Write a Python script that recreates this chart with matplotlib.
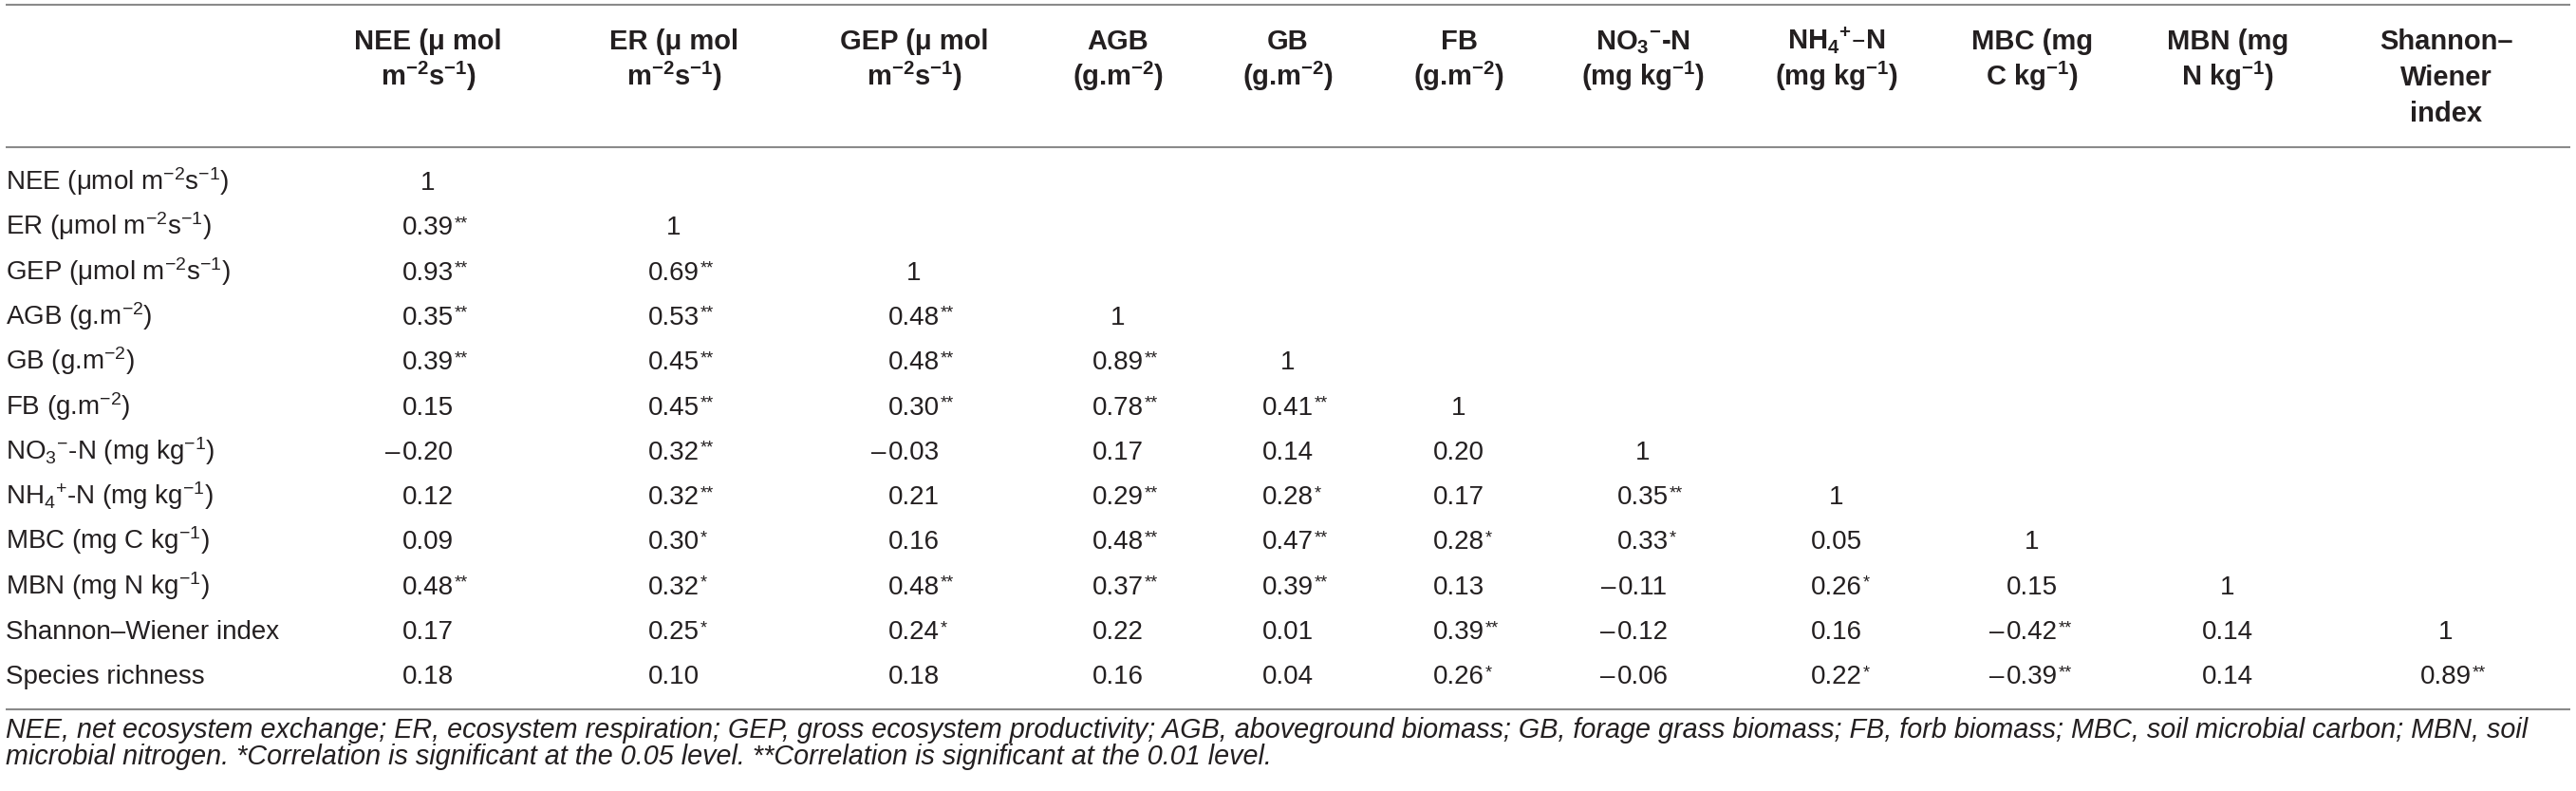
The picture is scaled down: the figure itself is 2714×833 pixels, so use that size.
import matplotlib
matplotlib.use('Agg')
import matplotlib.pyplot as plt

plt.rcParams['font.family'] = ['Liberation Sans', 'DejaVu Sans']
plt.rcParams['mathtext.default'] = 'regular'

# table content
col_labels = [
    "NEE (μ mol\nm$^{-2}$s$^{-1}$)",
    "ER (μ mol\nm$^{-2}$s$^{-1}$)",
    "GEP (μ mol\nm$^{-2}$s$^{-1}$)",
    "AGB\n(g.m$^{-2}$)",
    "GB\n(g.m$^{-2}$)",
    "FB\n(g.m$^{-2}$)",
    "NO$_3$$^{-}$-N\n(mg kg$^{-1}$)",
    "NH$_4$$^{+}$–N\n(mg kg$^{-1}$)",
    "MBC (mg\nC kg$^{-1}$)",
    "MBN (mg\nN kg$^{-1}$)",
    "Shannon–\nWiener\nindex",
]
row_labels = [
    "NEE (μmol m$^{-2}$s$^{-1}$)",
    "ER (μmol m$^{-2}$s$^{-1}$)",
    "GEP (μmol m$^{-2}$s$^{-1}$)",
    "AGB (g.m$^{-2}$)",
    "GB (g.m$^{-2}$)",
    "FB (g.m$^{-2}$)",
    "NO$_3$$^{-}$-N (mg kg$^{-1}$)",
    "NH$_4$$^{+}$-N (mg kg$^{-1}$)",
    "MBC (mg C kg$^{-1}$)",
    "MBN (mg N kg$^{-1}$)",
    "Shannon–Wiener index",
    "Species richness",
]
r_vals = [
    [1],
    [0.39, 1],
    [0.93, 0.69, 1],
    [0.35, 0.53, 0.48, 1],
    [0.39, 0.45, 0.48, 0.89, 1],
    [0.15, 0.45, 0.30, 0.78, 0.41, 1],
    [-0.20, 0.32, -0.03, 0.17, 0.14, 0.20, 1],
    [0.12, 0.32, 0.21, 0.29, 0.28, 0.17, 0.35, 1],
    [0.09, 0.30, 0.16, 0.48, 0.47, 0.28, 0.33, 0.05, 1],
    [0.48, 0.32, 0.48, 0.37, 0.39, 0.13, -0.11, 0.26, 0.15, 1],
    [0.17, 0.25, 0.24, 0.22, 0.01, 0.39, -0.12, 0.16, -0.42, 0.14, 1],
    [0.18, 0.10, 0.18, 0.16, 0.04, 0.26, -0.06, 0.22, -0.39, 0.14, 0.89],
]
sig = [
    [""],
    ["**", ""],
    ["**", "**", ""],
    ["**", "**", "**", ""],
    ["**", "**", "**", "**", ""],
    ["", "**", "**", "**", "**", ""],
    ["", "**", "", "", "", "", ""],
    ["", "**", "", "**", "*", "", "**", ""],
    ["", "*", "", "**", "**", "*", "*", "", ""],
    ["**", "*", "**", "**", "**", "", "", "*", "", ""],
    ["", "*", "*", "", "", "**", "", "", "**", "", ""],
    ["", "", "", "", "", "*", "", "*", "**", "", "**"],
]
footnote = [
    "NEE, net ecosystem exchange; ER, ecosystem respiration; GEP, gross ecosystem productivity; "
    "AGB, aboveground biomass; GB, forage grass biomass; FB, forb biomass; MBC, soil microbial carbon; MBN, soil",
    "microbial nitrogen. *Correlation is significant at the 0.05 level. **Correlation is significant at the 0.01 level.",
]

W, H = 2714, 833
ink = '#231f20'
rule = '#8a8a8a'
fs_body = 20
fs_head = 21

fig = plt.figure(figsize=(W / 100, H / 100), dpi=100)
ax = fig.add_axes([0, 0, 1, 1])
ax.set_xlim(0, W)
ax.set_ylim(H, 0)
ax.axis('off')
renderer = fig.canvas.get_renderer()
to_data = ax.transData.inverted()

col_x = [451, 710, 963, 1178, 1357, 1537, 1731, 1935, 2141, 2347, 2577]
row_y0, row_dy = 190, 47.3
x_left = 6

# rules
for y in (5, 155, 747):
    ax.plot([x_left, 2708], [y, y], color=rule, lw=1.5, solid_capstyle='butt')

# header
for x, lab in zip(col_x, col_labels):
    for k, line in enumerate(lab.split('\n')):
        ax.text(x, 52 + 38 * k, line, ha='center', va='baseline',
                fontsize=fs_head, fontweight='bold', color=ink)

# body
for i, (lab, vals, stars) in enumerate(zip(row_labels, r_vals, sig)):
    yb = row_y0 + i * row_dy + 10
    ax.text(x_left, yb, lab, ha='left', va='baseline', fontsize=fs_body, color=ink)
    for j, (v, s) in enumerate(zip(vals, stars)):
        txt = "1" if v == 1 else f"{abs(v):.2f}"
        t = ax.text(col_x[j], yb, txt, ha='center', va='baseline', fontsize=fs_body, color=ink)
        bb = t.get_window_extent(renderer).transformed(to_data)
        if v < 0:
            ax.text(bb.x0 - 2, yb, "–", ha='right', va='baseline', fontsize=fs_body, color=ink)
        if s:
            ax.text(bb.x1 + 1, yb - 20, s, ha='left', va='top', fontsize=13, color=ink)

# footnote
for k, line in enumerate(footnote):
    ax.text(x_left, 777 + 28 * k, line, ha='left', va='baseline', fontsize=20.7,
            fontstyle='italic', color=ink)

fig.savefig('out.png', dpi=100)
